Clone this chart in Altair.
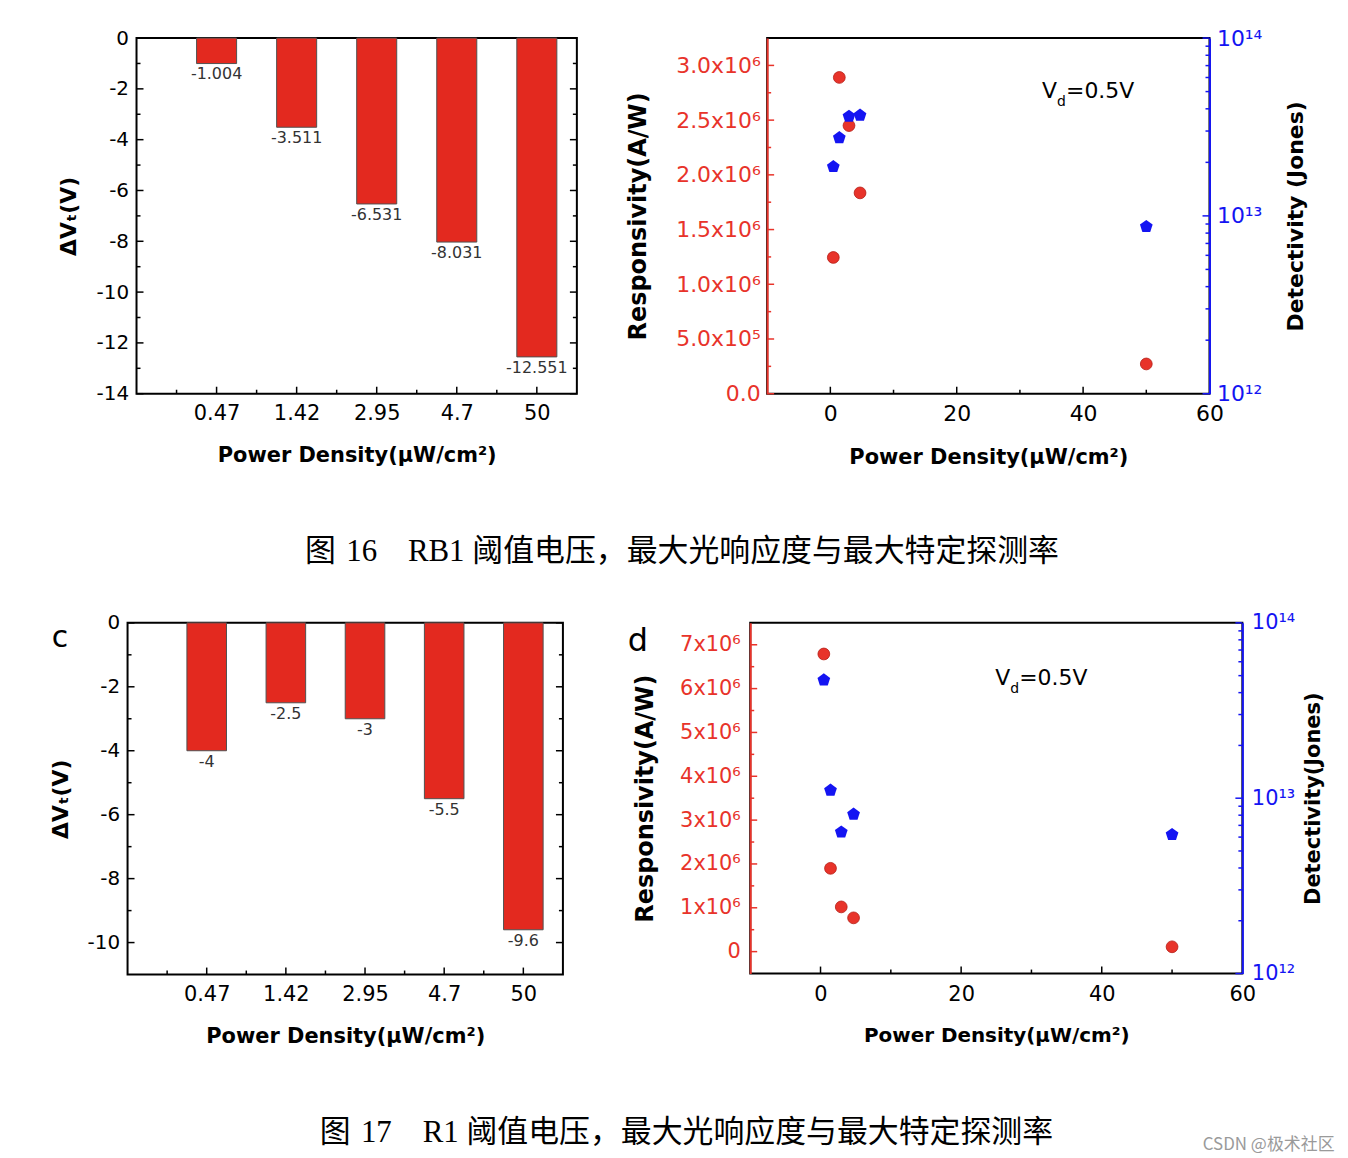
import json
import altair as alt
import pandas as pd

# ---------------- data ----------------
power_labels = ["0.47", "1.42", "2.95", "4.7", "50"]
power_density = [0.47, 1.42, 2.95, 4.7, 50.0]
bar_slots = [1, 2, 3, 4, 5]

dvt_rb1 = [-1.004, -3.511, -6.531, -8.031, -12.551]
dvt_rb1_text = ["-1.004", "-3.511", "-6.531", "-8.031", "-12.551"]
dvt_r1 = [-4.0, -2.5, -3.0, -5.5, -9.6]
dvt_r1_text = ["-4", "-2.5", "-3", "-5.5", "-9.6"]

resp_rb1 = [1.245e6, 2.89e6, 2.45e6, 1.835e6, 0.272e6]
det_rb1 = [1.89e13, 2.75e13, 3.63e13, 3.68e13, 8.7e12]
resp_r1 = [6.79e6, 1.90e6, 1.02e6, 0.77e6, 0.11e6]
det_r1 = [4.72e13, 1.11e13, 6.4e12, 8.1e12, 6.2e12]

rb1_resp_ticks = [0, 5e5, 1e6, 1.5e6, 2e6, 2.5e6, 3e6]
rb1_resp_labels = ["0.0", "5.0x10⁵", "1.0x10⁶", "1.5x10⁶", "2.0x10⁶", "2.5x10⁶", "3.0x10⁶"]
rb1_resp_minor = [2.5e5, 7.5e5, 1.25e6, 1.75e6, 2.25e6, 2.75e6]
r1_resp_ticks = [0, 1e6, 2e6, 3e6, 4e6, 5e6, 6e6, 7e6]
r1_resp_labels = ["0", "1x10⁶", "2x10⁶", "3x10⁶", "4x10⁶", "5x10⁶", "6x10⁶", "7x10⁶"]
r1_resp_minor = [5e5, 1.5e6, 2.5e6, 3.5e6, 4.5e6, 5.5e6, 6.5e6]
det_ticks = [1e12, 1e13, 1e14]
det_labels = ["10¹²", "10¹³", "10¹⁴"]
det_minor = [k * 10 ** e for e in (12, 13) for k in range(2, 10)]
pd_ticks = [0, 20, 40, 60]
pd_minor = [10, 30, 50]

caption16 = "图\u200416\u2003RB1 阈值电压，最大光响应度与最大特定探测率"
caption17 = "图\u200417\u2003R1 阈值电压，最大光响应度与最大特定探测率"
watermark = "CSDN @极术社区"

RED_BAR = "#e3291f"
RED = "#e8332a"
BLUE = "#1414f2"
PENTAGON = "M0,-1L0.951,-0.309L0.588,0.809L-0.588,0.809L-0.951,-0.309Z"
FONT = "DejaVu Sans"
XTITLE = "Power Density(μW/cm²)"


def ax(**kw):
    base = dict(labelFont=FONT, titleFont=FONT, titleFontWeight="bold",
                labelColor="black", titleColor="black", ticks=False, grid=False,
                domain=False, labelFlush=False)
    base.update(kw)
    return alt.Axis(**base)


def js(lst):
    return json.dumps(lst, ensure_ascii=False)


def y_ticks(values, scale, length, color, x_at, direction):
    df = pd.DataFrame({"v": values})
    return alt.Chart(df).mark_rule(color=color, strokeWidth=1.5).encode(
        y=alt.Y("v:Q", scale=scale),
        x=alt.value(x_at), x2=alt.value(x_at + direction * length))


def x_ticks(values, scale, length, height, color="black"):
    df = pd.DataFrame({"v": values})
    return alt.Chart(df).mark_rule(color=color, strokeWidth=1.5).encode(
        x=alt.X("v:Q", scale=scale),
        y=alt.value(height), y2=alt.value(height - length))


def text_mark(txt, x, y, size, weight="normal", opacity=1):
    return alt.Chart(pd.DataFrame({"t": [txt]})).mark_text(
        align="left", baseline="alphabetic", fontSize=size, font=FONT,
        fontWeight=weight, color="black", opacity=opacity).encode(
        x=alt.value(x), y=alt.value(y), text="t:N")


def bar_panel(values, texts, ymin, width, height, title_pad, extra=()):
    df = pd.DataFrame({"slot": bar_slots, "dv": values, "txt": texts})
    xs = alt.Scale(domain=[0, 5.5], nice=False, zero=False)
    ys = alt.Scale(domain=[ymin, 0], nice=False, zero=False)
    label_expr = js(power_labels) + "[round(datum.value) - 1]"
    major = list(range(-(abs(ymin) // 2) * 2, 1, 2))
    minor = [v for v in range(ymin + 1, 0) if v % 2 != 0]
    bars = alt.Chart(df).transform_calculate(
        x0="datum.slot - 0.25", x1="datum.slot + 0.25", base="0"
    ).mark_rect(color=RED_BAR, stroke="#505050", strokeWidth=1).encode(
        x=alt.X("x0:Q", scale=xs, axis=ax(
            values=bar_slots, labelExpr=label_expr, title=XTITLE,
            labelFontSize=21, labelPadding=9, titlePadding=21, titleFontSize=21)),
        x2="x1:Q",
        y=alt.Y("dv:Q", scale=ys, axis=ax(
            values=major, labelExpr="datum.value + ''", title="ΔVₜ(V)",
            labelFontSize=20, labelPadding=8, titlePadding=title_pad, titleFontSize=22)),
        y2="base:Q")
    labels = alt.Chart(df).mark_text(
        baseline="top", dy=3, fontSize=16, font=FONT, color="#333333").encode(
        x=alt.X("slot:Q", scale=xs),
        y=alt.Y("dv:Q", scale=ys),
        text="txt:N")
    layers = [bars, labels,
              y_ticks(major, ys, 7, "black", 0, 1),
              y_ticks(minor, ys, 4, "black", 0, 1),
              y_ticks(major, ys, 7, "black", width, -1),
              y_ticks(minor, ys, 4, "black", width, -1),
              x_ticks(bar_slots, xs, 7, height),
              x_ticks([0.5, 1.5, 2.5, 3.5, 4.5], xs, 4, height)]
    layers += list(extra)
    return alt.layer(*layers).properties(width=width, height=height)


def scatter_panel(resp, det, ydom, rticks, rlabels, rminor, rstep, width, height,
                  lsize, xtitle_size, xtitle_pad, rtitle, rtitle_size, ltitle_pad,
                  rtitle_pad, lpad, rpad, extra=()):
    df = pd.DataFrame({"p": power_density, "resp": resp, "det": det})
    xs = alt.Scale(domain=[-10, 60], nice=False, zero=False)
    ys = alt.Scale(domain=ydom, nice=False, zero=False)
    ls = alt.Scale(type="log", domain=[1e12, 1e14], nice=False)
    x_axis = ax(values=pd_ticks, title=XTITLE, labelFontSize=lsize, labelPadding=10,
                titlePadding=xtitle_pad, titleFontSize=xtitle_size)
    red = alt.Chart(df).mark_point(
        filled=True, shape="circle", size=140, fill=RED, stroke="#b51c14",
        strokeWidth=0.8, opacity=1).encode(
        x=alt.X("p:Q", scale=xs, axis=x_axis),
        y=alt.Y("resp:Q", scale=ys, axis=ax(
            orient="left", values=rticks,
            labelExpr=js(rlabels) + "[round(datum.value / %g)]" % rstep,
            labelColor=RED, labelFontSize=lsize, labelPadding=lpad,
            domain=True, domainColor=RED, domainWidth=2,
            title="Responsivity(A/W)", titleFontSize=24, titlePadding=ltitle_pad)))
    blue = alt.Chart(df).mark_point(
        filled=True, shape=PENTAGON, size=180, fill=BLUE, opacity=1).encode(
        x=alt.X("p:Q", scale=xs, axis=x_axis),
        y=alt.Y("det:Q", scale=ls, axis=ax(
            orient="right", values=det_ticks,
            labelExpr=js(det_labels) + "[round(log(datum.value) / LN10) - 12]",
            labelColor=BLUE, labelFontSize=lsize, labelPadding=rpad,
            domain=True, domainColor=BLUE, domainWidth=2,
            title=rtitle, titleAngle=270, titleBaseline="top",
            titleFontSize=rtitle_size, titlePadding=rtitle_pad)))
    left_group = alt.layer(
        red,
        y_ticks(rticks, ys, 7, RED, 0, 1),
        y_ticks(rminor, ys, 4, RED, 0, 1),
        x_ticks(pd_ticks[:-1], xs, 7, height),
        x_ticks(pd_minor, xs, 4, height),
        *extra)
    right_group = alt.layer(
        blue,
        y_ticks(det_ticks, ls, 7, BLUE, width, -1),
        y_ticks(det_minor, ls, 4, BLUE, width, -1))
    return alt.layer(left_group, right_group).resolve_scale(y="independent").properties(
        width=width, height=height)


def vd_marks(x, y):
    return [text_mark("V", x, y, 22), text_mark("d", x + 15, y + 8, 14),
            text_mark("=0.5V", x + 24, y, 22)]


panel_a = bar_panel(dvt_rb1, dvt_rb1_text, -14, 442, 357, 16)
panel_b = scatter_panel(resp_rb1, det_rb1, [0, 3.25e6], rb1_resp_ticks, rb1_resp_labels,
                        rb1_resp_minor, 5e5, 444, 357, 22, 21, 22, "Detectivity (Jones)", 22,
                        25, 24, 7, 7, extra=vd_marks(276, 60))
panel_c = bar_panel(dvt_r1, dvt_r1_text, -11, 437, 353, 15,
                    extra=[text_mark("c", -76, 24, 30)])
panel_d = scatter_panel(resp_r1, det_r1, [-0.5e6, 7.5e6], r1_resp_ticks, r1_resp_labels,
                        r1_resp_minor, 1e6, 494, 352, 21, 20, 21, "Detectivity(Jones)", 21,
                        22, 8, 10, 9, extra=vd_marks(246, 62) + [text_mark("d", -123, 28, 32)])

# invisible spacer so that panel a sits 9px to the right of panel c
spacer = alt.Chart(pd.DataFrame({"t": [0]})).mark_point(opacity=0, size=1).encode(
    x=alt.value(0), y=alt.value(0)
).properties(width=9, height=357, view=alt.ViewBackground(strokeOpacity=0))
left_top = alt.hconcat(spacer, panel_a, spacing=0, bounds="flush")

cap_font = "Liberation Serif, Noto Sans CJK SC"
row1 = alt.hconcat(left_top, panel_b, spacing=47).properties(
    title=alt.TitleParams(caption16, orient="bottom", anchor="middle", font=cap_font,
                          fontSize=31, fontWeight="normal", color="black", offset=69))
row2 = alt.hconcat(panel_c, panel_d, spacing=62).properties(
    title=alt.TitleParams(caption17, orient="bottom", anchor="middle", font=cap_font,
                          fontSize=31, fontWeight="normal", color="black", offset=71))

chart = alt.vconcat(row1, row2, spacing=44).properties(
    padding={"left": 40, "top": 16, "right": 5, "bottom": 5},
    title=alt.TitleParams(watermark, orient="bottom", anchor="end", font="Noto Sans CJK SC",
                          fontSize=17, fontWeight="normal", color="#9a9a9a", offset=-11, dx=10)
).configure_view(stroke="black", strokeWidth=2)

chart.save("out.html", embed_options={"renderer": "svg", "actions": False})
